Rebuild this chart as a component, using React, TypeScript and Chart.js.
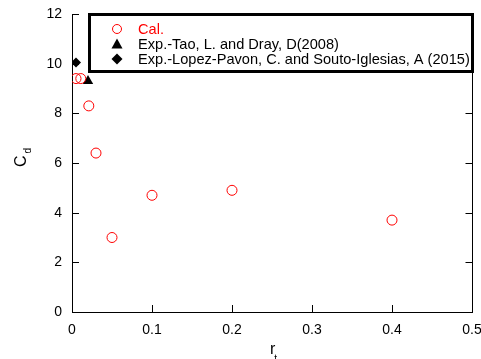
import React, { useEffect, useRef } from "react";
import { Chart, registerables } from "chart.js";

Chart.register(...registerables);

const calX = [0.005, 0.011, 0.021, 0.03, 0.05, 0.1, 0.2, 0.4];
const calY = [9.4, 9.4, 8.3, 6.4, 3.0, 4.7, 4.9, 3.7];
const taoX = [0.02];
const taoY = [9.3];
const lopezX = [0.005];
const lopezY = [10.05];
const xTicks = [0, 0.1, 0.2, 0.3, 0.4, 0.5];
const yTicks = [0, 2, 4, 6, 8, 10, 12];
const seriesLabels = [
  "Cal.",
  "Exp.-Tao, L. and Dray, D(2008)",
  "Exp.-Lopez-Pavon, C. and Souto-Iglesias, A (2015)",
];

const FONT = "Liberation Sans, Arial, sans-serif";

const zeroPad = (s: any) => {
  s.paddingLeft = 0;
  s.paddingRight = 0;
  s.paddingTop = 0;
  s.paddingBottom = 0;
};

const decorPlugin = {
  id: "decor",
  afterDraw(chart: any) {
    const ctx = chart.ctx;
    const { left, right, top, bottom } = chart.chartArea;
    const xs = chart.scales.x;
    const ys = chart.scales.y;
    const rr = Math.round(right) + 0.5;
    ctx.save();
    ctx.strokeStyle = "#000";
    ctx.lineWidth = 1;
    ctx.beginPath();
    xTicks.forEach((v) => {
      const px = Math.round(xs.getPixelForValue(v)) + 0.5;
      ctx.moveTo(px, bottom);
      ctx.lineTo(px, bottom - 7);
    });
    yTicks.forEach((v) => {
      const py = Math.round(ys.getPixelForValue(v)) + 0.5;
      ctx.moveTo(left, py);
      ctx.lineTo(left + 7, py);
      ctx.moveTo(rr, py);
      ctx.lineTo(rr - 7, py);
    });
    ctx.moveTo(rr, top);
    ctx.lineTo(rr, bottom);
    ctx.stroke();

    // axis titles
    ctx.fillStyle = "#000";
    ctx.textBaseline = "alphabetic";
    ctx.textAlign = "left";
    ctx.font = `16px ${FONT}`;
    const rW = ctx.measureText("r").width;
    const rx = (left + right) / 2 - 2;
    ctx.fillText("r", rx, 354);
    ctx.font = `10px ${FONT}`;
    ctx.fillText("t", rx + rW - 1, 362);

    ctx.save();
    ctx.translate(26, 167);
    ctx.rotate(-Math.PI / 2);
    ctx.font = `16px ${FONT}`;
    const cW = ctx.measureText("C").width;
    ctx.fillText("C", 0, 0);
    ctx.font = `10px ${FONT}`;
    ctx.fillText("d", cW + 2, 5);
    ctx.restore();

    // legend
    const bx = 89.5, by = 14.5, bw = 383, bh = 57;
    ctx.fillStyle = "#fff";
    ctx.fillRect(bx, by, bw, bh);
    ctx.lineWidth = 3;
    ctx.strokeStyle = "#000";
    ctx.strokeRect(bx, by, bw, bh);

    const rows = [29, 44, 59];
    const mx = 117;
    ctx.lineWidth = 1;
    ctx.strokeStyle = "#ff0000";
    ctx.beginPath();
    ctx.arc(mx, rows[0], 4.5, 0, Math.PI * 2);
    ctx.stroke();
    ctx.fillStyle = "#000";
    ctx.beginPath();
    ctx.moveTo(mx, rows[1] - 5.5);
    ctx.lineTo(mx + 5.5, rows[1] + 4.5);
    ctx.lineTo(mx - 5.5, rows[1] + 4.5);
    ctx.closePath();
    ctx.fill();
    ctx.beginPath();
    ctx.moveTo(mx, rows[2] - 5.5);
    ctx.lineTo(mx + 5.5, rows[2]);
    ctx.lineTo(mx, rows[2] + 5.5);
    ctx.lineTo(mx - 5.5, rows[2]);
    ctx.closePath();
    ctx.fill();

    ctx.font = `14.6px ${FONT}`;
    ctx.textBaseline = "middle";
    ctx.fillStyle = "#ff0000";
    ctx.fillText(seriesLabels[0], 138, rows[0] + 1);
    ctx.fillStyle = "#000";
    ctx.fillText(seriesLabels[1], 138, rows[1] + 1);
    ctx.fillText(seriesLabels[2], 138, rows[2] + 1);
    ctx.restore();
  },
};

export default function App() {
  const ref = useRef<HTMLCanvasElement | null>(null);
  useEffect(() => {
    if (!ref.current) return;
    const toPts = (xs: number[], ys: number[]) => xs.map((x, i) => ({ x, y: ys[i] }));
    const chart = new Chart(ref.current, {
      type: "scatter",
      data: {
        datasets: [
          {
            label: seriesLabels[0],
            data: toPts(calX, calY),
            pointStyle: "circle",
            pointRadius: 5,
            pointBorderColor: "#ff0000",
            pointBackgroundColor: "rgba(255,255,255,0)",
            pointBorderWidth: 1,
          },
          {
            label: seriesLabels[1],
            data: toPts(taoX, taoY),
            pointStyle: "triangle",
            pointRadius: 6,
            pointBorderColor: "#000",
            pointBackgroundColor: "#000",
            pointBorderWidth: 0,
          },
          {
            label: seriesLabels[2],
            data: toPts(lopezX, lopezY),
            pointStyle: "rectRot",
            pointRadius: 5,
            pointBorderColor: "#000",
            pointBackgroundColor: "#000",
            pointBorderWidth: 0,
          },
        ],
      },
      options: {
        animation: false,
        responsive: false,
        devicePixelRatio: 1,
        layout: { padding: { left: 0, right: 9, top: 14, bottom: 0 } },
        plugins: { legend: { display: false }, tooltip: { enabled: false } },
        scales: {
          x: {
            type: "linear",
            min: 0,
            max: 0.5,
            afterBuildTicks: (s: any) => {
              s.ticks = xTicks.map((v) => ({ value: v }));
            },
            afterFit: (s: any) => {
              s.height = 47;
              zeroPad(s);
            },
            grid: { display: false, drawTicks: false },
            border: { display: true, color: "#000", width: 1 },
            ticks: {
              padding: 10,
              color: "#000",
              font: { family: FONT, size: 14 },
              maxRotation: 0,
              callback: (v: any) => String(v),
            },
          },
          y: {
            type: "linear",
            min: 0,
            max: 12,
            afterBuildTicks: (s: any) => {
              s.ticks = yTicks.map((v) => ({ value: v }));
            },
            afterFit: (s: any) => {
              s.width = 72;
              zeroPad(s);
            },
            grid: { display: false, drawTicks: false },
            border: { display: true, color: "#000", width: 1 },
            ticks: {
              padding: 10,
              color: "#000",
              font: { family: FONT, size: 14 },
              callback: (v: any) => String(v),
            },
          },
        },
      },
      plugins: [decorPlugin],
    });
    return () => chart.destroy();
  }, []);
  return (
    <div style={{ position: "absolute", left: 0, top: 0, width: 481, height: 359, background: "#fff" }}>
      <canvas ref={ref} width={481} height={359} style={{ display: "block" }} />
    </div>
  );
}
